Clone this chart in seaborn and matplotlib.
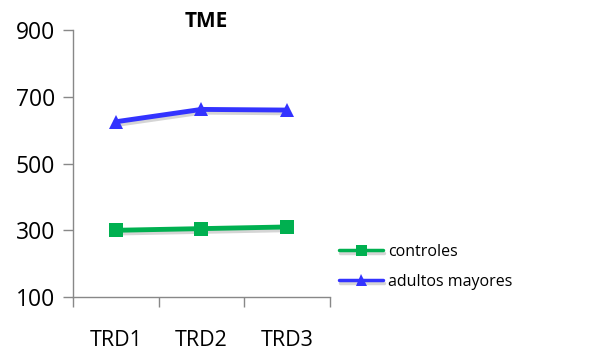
import matplotlib

matplotlib.use("Agg")
import matplotlib.patheffects as pe
import matplotlib.pyplot as plt
import pandas as pd
import seaborn as sns
from matplotlib.ticker import FixedLocator

categories = ["TRD1", "TRD2", "TRD3"]
controles = [300, 305, 310]
adultos_mayores = [625, 662, 660]
series_names = ["controles", "adultos mayores"]
y_ticks = [100, 300, 500, 700, 900]

df = pd.DataFrame(
    {
        "trd": categories * 2,
        "value": controles + adultos_mayores,
        "grupo": [series_names[0]] * 3 + [series_names[1]] * 3,
    }
)

sns.set_theme(style="white")
plt.rcParams["font.family"] = ["Open Sans", "DejaVu Sans"]
plt.rcParams["text.color"] = "black"
plt.rcParams["xtick.color"] = "black"
plt.rcParams["ytick.color"] = "black"

fig = plt.figure(figsize=(5.89, 3.52), dpi=100)
ax = fig.add_axes([0.124, 0.156, 0.436, 0.759])

colors = {"controles": "#00B050", "adultos mayores": "#3333FF"}
shadow = [pe.SimpleLineShadow(offset=(0.5, -2), alpha=0.18), pe.Normal()]

sns.lineplot(
    data=df,
    x="trd",
    y="value",
    hue="grupo",
    style="grupo",
    palette=colors,
    markers={"controles": "s", "adultos mayores": "^"},
    dashes=False,
    linewidth=3.5,
    markersize=10,
    markeredgewidth=0,
    sort=False,
    ax=ax,
)
for line in ax.get_lines():
    line.set_path_effects(shadow)

ax.set_xlim(-0.5, 2.5)
ax.set_ylim(100, 900)
ax.set_yticks(y_ticks)
ax.set_xticks(range(len(categories)))
ax.set_xticklabels(categories)
ax.xaxis.set_minor_locator(FixedLocator([-0.5, 0.5, 1.5, 2.5]))
ax.tick_params(axis="x", which="major", length=0, pad=24, labelsize=15.5, labelcolor="black")
ax.tick_params(axis="x", which="minor", bottom=True, length=7, width=1, color="#888888")
ax.tick_params(axis="y", left=True, length=7, width=1, color="#888888",
               labelsize=16.5, pad=6, labelcolor="black")
ax.set_xlabel("")
ax.set_ylabel("")

for side in ["top", "right"]:
    ax.spines[side].set_visible(False)
for side in ["left", "bottom"]:
    ax.spines[side].set_color("#888888")
    ax.spines[side].set_linewidth(1)

ax.set_title("TME", fontsize=15, fontweight="bold", pad=2, x=0.52, color="black")

handles, labels = ax.get_legend_handles_labels()
ax.legend(
    handles,
    labels,
    loc="upper left",
    bbox_to_anchor=(0.565, 0.325),
    bbox_transform=fig.transFigure,
    frameon=False,
    fontsize=11.5,
    handlelength=2.75,
    handletextpad=0.3,
    labelspacing=0.85,
    borderaxespad=0,
)
for h in ax.get_legend().get_lines():
    h.set_linewidth(2.5)
    h.set_markersize(8)

fig.savefig("out.png", dpi=100)
